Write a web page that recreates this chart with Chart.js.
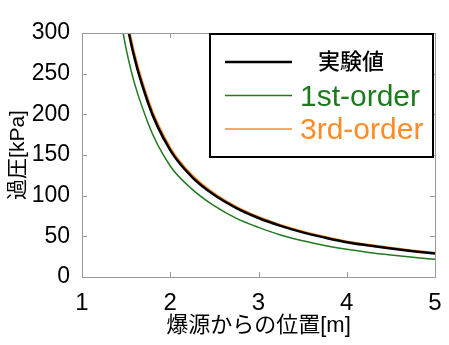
<!DOCTYPE html>
<html>
<head>
<meta charset="utf-8">
<script src="https://cdn.jsdelivr.net/npm/chart.js@4"></script>
<style>
  html, body { margin: 0; padding: 0; background: #fff; }
  #wrap { width: 449px; height: 345px; }
</style>
</head>
<body>
<div id="wrap"><canvas id="kaatsu"></canvas></div>
<script>
// 爆源からの位置 [m]
const dist = [1.25, 1.5, 1.75, 2.0, 2.25, 2.5, 2.75, 3.0, 3.25, 3.5, 3.75, 4.0, 4.25, 4.5, 4.75, 5.0];
// 過圧 [kPa]
const jikken = [509, 317, 213.6, 155.9, 122.5, 100.7, 84.7, 72.5, 62.8, 54.9, 48.5, 42.8, 38.7, 35.0, 31.7, 28.9];
const first  = [450, 280.5, 188.8, 136.5, 107.8, 87.4, 72.1, 61.0, 51.6, 44.5, 38.8, 34.1, 30.2, 27.0, 24.2, 21.8];
const third  = [517, 322, 217, 158.5, 124.5, 102.3, 86.0, 73.6, 63.8, 55.8, 49.3, 43.5, 39.4, 35.6, 32.2, 29.4];
const xTicks = [1, 2, 3, 4, 5];
const yTicks = [0, 50, 100, 150, 200, 250, 300];
const legendNames = ['実験値', '1st-order', '3rd-order'];

const FONT = '"Liberation Sans", "Noto Sans CJK JP", sans-serif';
const GREEN = '#1f7a1f';
const ORANGE = '#ff8c26';

function pts(ys) {
  return dist.map((x, i) => ({ x: x, y: ys[i] }));
}

// inward ticks on all four sides + grey frame
const frame = {
  id: 'frame',
  afterDatasetsDraw(chart) {
    const { ctx, chartArea: a, scales } = chart;
    ctx.save();
    ctx.strokeStyle = '#999';
    ctx.lineWidth = 1;
    ctx.strokeRect(a.left + 0.5, a.top + 0.5, a.right - a.left, a.bottom - a.top);
    ctx.beginPath();
    xTicks.forEach(v => {
      const px = Math.round(scales.x.getPixelForValue(v)) + 0.5;
      ctx.moveTo(px, a.bottom); ctx.lineTo(px, a.bottom - 5);
      ctx.moveTo(px, a.top); ctx.lineTo(px, a.top + 5);
    });
    yTicks.forEach(v => {
      const py = Math.round(scales.y.getPixelForValue(v)) + 0.5;
      ctx.moveTo(a.left, py); ctx.lineTo(a.left + 5, py);
      ctx.moveTo(a.right, py); ctx.lineTo(a.right - 5, py);
    });
    ctx.stroke();
    ctx.restore();
  }
};

// legend box like the original figure
const legendBox = {
  id: 'legendBox',
  afterDraw(chart) {
    const ctx = chart.ctx;
    const colors = ['#000', GREEN, ORANGE];
    const widths = [2.5, 1.5, 1.5];
    ctx.save();
    ctx.fillStyle = '#fff';
    ctx.fillRect(210, 34, 223, 123);
    ctx.strokeStyle = '#000';
    ctx.lineWidth = 2;
    ctx.strokeRect(210, 34, 223, 123);
    legendNames.forEach((name, i) => {
      const y = 62 + i * 33.5;
      ctx.strokeStyle = colors[i];
      ctx.lineWidth = widths[i];
      ctx.beginPath();
      ctx.moveTo(225, y); ctx.lineTo(292, y);
      ctx.stroke();
      ctx.fillStyle = colors[i];
      ctx.textBaseline = 'middle';
      if (i === 0) {
        ctx.font = '500 22px ' + FONT;
        ctx.fillText(name, 318, y + 1);
      } else {
        ctx.font = '30px ' + FONT;
        ctx.fillText(name, 300, y + 2);
      }
    });
    ctx.restore();
  }
};

new Chart(document.getElementById('kaatsu'), {
  type: 'line',
  data: {
    datasets: [
      { label: legendNames[0], data: pts(jikken), borderColor: '#000', borderWidth: 2.5 },
      { label: legendNames[1], data: pts(first), borderColor: GREEN, borderWidth: 1.5 },
      { label: legendNames[2], data: pts(third), borderColor: ORANGE, borderWidth: 2.5 }
    ]
  },
  options: {
    responsive: true,
    maintainAspectRatio: false,
    animation: false,
    layout: { padding: { left: 0, right: 14, top: 33, bottom: 0 } },
    elements: {
      point: { radius: 0 },
      line: { cubicInterpolationMode: 'monotone', fill: false }
    },
    plugins: { legend: { display: false }, tooltip: { enabled: false } },
    scales: {
      x: {
        type: 'linear', min: 1, max: 5,
        afterFit: s => { s.height = 68; },
        afterBuildTicks: s => { s.ticks = xTicks.map(v => ({ value: v })); },
        grid: { display: false },
        border: { display: false },
        ticks: { color: '#000', padding: 4, font: { family: FONT, size: 24 } },
        title: {
          display: true, text: '爆源からの位置[m]', color: '#000',
          font: { family: FONT, size: 22 }, padding: { top: 0, bottom: 6 }
        }
      },
      y: {
        min: 0, max: 300,
        afterFit: s => { s.width = 82; },
        afterBuildTicks: s => { s.ticks = yTicks.map(v => ({ value: v })); },
        grid: { display: false },
        border: { display: false },
        ticks: { color: '#000', padding: 4, font: { family: FONT, size: 23 } },
        title: {
          display: true, text: '過圧[kPa]', color: '#000',
          font: { family: FONT, size: 21 }, padding: { top: 6, bottom: 0 }
        }
      }
    }
  },
  plugins: [frame, legendBox]
});
</script>
</body>
</html>
